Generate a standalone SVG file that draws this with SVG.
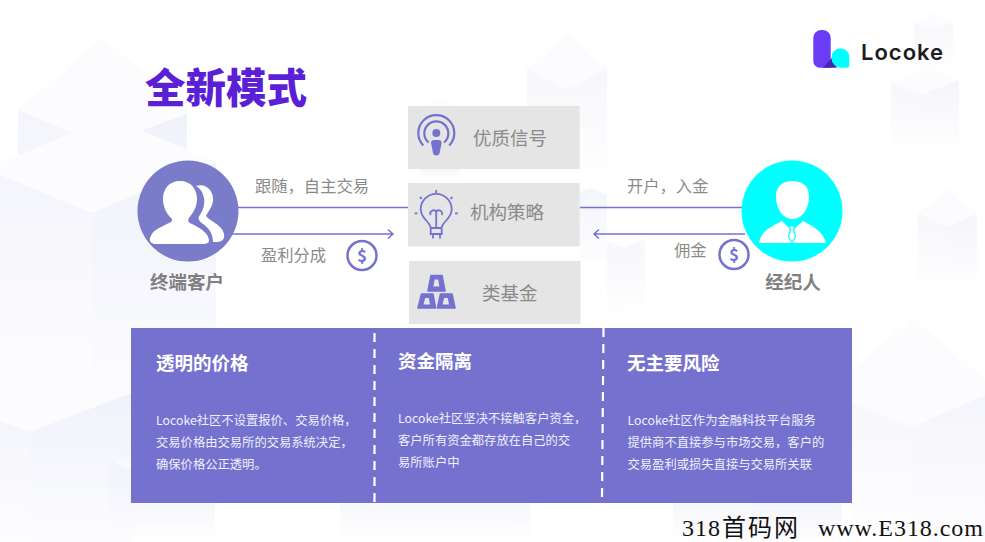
<svg xmlns="http://www.w3.org/2000/svg" width="985" height="542" viewBox="0 0 985 542">
<defs>
<linearGradient id="gl" x1="0" y1="0" x2="0" y2="1"><stop offset="0" stop-color="#f1f2fb"/><stop offset="1" stop-color="#fdfdff"/></linearGradient>
<linearGradient id="gr" x1="0" y1="0" x2="0" y2="1"><stop offset="0" stop-color="#ebedfa"/><stop offset="1" stop-color="#fcfcff"/></linearGradient>
<linearGradient id="gf" x1="0" y1="0" x2="0" y2="1"><stop offset="0" stop-color="#f0f1fb"/><stop offset="1" stop-color="#fff"/></linearGradient>
<linearGradient id="gh" x1="0" y1="0" x2="0" y2="1"><stop offset="0" stop-color="#f4f4fb"/><stop offset="1" stop-color="#fff"/></linearGradient>
</defs>
<style>
text{font-family:"Noto Sans CJK SC","Noto Sans",sans-serif}
.lab{font-size:16.300px;fill:#8a8a8a}
.nm{font-size:18.500px;font-weight:700;fill:#808080}
.box{fill:#e5e5e5}
.bt{font-size:18.500px;fill:#8a8a8a}
.h{font-size:18.500px;font-weight:700;fill:#fff}
.b{font-size:12.300px;fill:#f0effb}
.ln{stroke:#7572cf;stroke-width:1.500;fill:none}
.ic{fill:#7572cf}
.ist{stroke:#7572cf;fill:none;stroke-width:2}
.d{stroke:#fff;stroke-width:2.200;stroke-dasharray:9 7;fill:none}
.roof{fill:#fbfbfe}
.fl{fill:url(#gl)}
.fr{fill:url(#gr)}
.ff{fill:url(#gf)}
.fh{fill:url(#gh)}
.wm{fill:#111;font-family:"Liberation Serif","Noto Sans CJK SC",serif}
</style>
<rect width="985" height="542" fill="#fff"/>
<g id="background" opacity=".7">
<polygon class="roof" points="18,110 102,38 187,108 187,114 102,145"/>
<polygon class="ff" points="18,110 102,145 102,330 18,330"/>
<polygon class="fr" points="102,145 187,114 187,330 102,330"/>
<polygon class="roof" points="0,163 110,117 216,162 92,213 0,175"/>
<polygon class="fl" points="0,175 92,213 92,400 0,400"/>
<polygon class="fr" points="92,213 216,162 216,400 92,400"/>
<polygon class="roof" points="0,377 45,359 131,393 30,432 0,421"/>
<polygon class="fl" points="0,421 30,432 30,542 0,542"/>
<polygon class="fr" points="30,432 131,393 131,542 30,542"/>
<polygon class="fr" points="109,460 131,445 131,470"/>
<polygon class="fr" opacity=".8" points="109,460 131,470 131,542 109,542"/>
<polygon class="fh" points="131,503 215,503 215,542 131,542"/>
<polygon class="fh" points="340,503 530,503 530,542 340,542"/>
<polygon class="roof" points="420,107 440,98 460,107 440,115"/>
<polygon class="fh" points="420,169 460,169 460,178 420,178"/>
<polygon class="roof" points="527,68 567,33 607,68 607,105 527,105"/>
<polygon class="fh" points="527,68 567,90 567,180 527,180"/>
<polygon class="fh" points="567,90 607,68 607,180 567,180"/>
<polygon class="fl" points="580,192 590,188 607,195 607,260 580,260"/>
<polygon class="fh" points="607,242 625,247 625,315 607,315"/>
<polygon class="fh" points="625,247 645,239 645,315 625,315"/>
<polygon class="fh" points="914,23 932,29 932,70 914,70"/>
<polygon class="fh" points="932,29 953,22 953,70 932,70"/>
<polygon class="roof" points="914,23 932,14 953,22 932,29"/>
<polygon class="roof" points="891,83 928,68 959,80 922,95"/>
<polygon class="fh" points="891,83 922,95 922,150 891,150"/>
<polygon class="ff" points="922,95 959,80 959,150 922,150"/>
<polygon class="roof" points="918,214 948,188 977,214 948,227"/>
<polygon class="fh" points="918,214 948,227 948,290 918,290"/>
<polygon class="ff" points="948,227 977,214 977,290 948,290"/>
<polygon class="roof" points="852,370 912,318 985,378 985,395 912,427 852,403"/>
<polygon class="fh" points="852,403 912,427 912,542 852,542"/>
<polygon class="fl" points="912,427 985,395 985,542 912,542"/>
<polygon class="fh" points="673,503 752,503 752,542 673,542"/>
<polygon class="ff" points="752,503 842,503 842,542 752,542"/>
</g>
<g id="logo">
<path d="M813.300 38a8 8 0 0 1 8-8h1.400a8 8 0 0 1 8 8v29.700h-11a6.400 6.400 0 0 1-6.400-6.400z" fill="#6b3cf5"/>
<path d="M823 67.700L833 56.700L836.700 67.700z" fill="#4a22ad"/>
<path d="M831.700 57a8.800 8.800 0 0 1 17.600 0v8.700a2 2 0 0 1-2 2h-6.800a8.800 8.800 0 0 1-8.800-8.800z" fill="#00ffff"/>
<text x="861" y="59.500" letter-spacing="1" style="font-family:Inter,'Noto Sans',sans-serif;font-size:22px;font-weight:600" fill="#1d1d22">Locoke</text>
</g>
<text id="title" x="145" y="103" font-size="40.500" font-weight="900" fill="#5b1fd6">全新模式</text>
<g id="connectors">
<path class="ln" d="M238 207.500H408"/>
<path class="ln" d="M232 234H393M388 229.500l5 4.500-5 4.500"/>
<path class="ln" d="M580 207.500H743"/>
<path class="ln" d="M745 234H594M599 229.500l-5 4.500 5 4.500"/>
<text class="lab" x="255" y="192">跟随，自主交易</text>
<text class="lab" x="261" y="261">盈利分成</text>
<text class="lab" x="627" y="192">开户，入金</text>
<text class="lab" x="674" y="256">佣金</text>
<g id="coin1"><circle class="ist" style="stroke-width:2.500" cx="362" cy="255.500" r="14.500"/><text x="362" y="261.500" text-anchor="middle" font-size="17" font-weight="700" fill="#7572cf">$</text></g>
<g id="coin2"><circle class="ist" style="stroke-width:2.500" cx="734" cy="254.500" r="14.500"/><text x="734" y="260.500" text-anchor="middle" font-size="17" font-weight="700" fill="#7572cf">$</text></g>
</g>
<g id="node-client">
<circle cx="188" cy="211" r="50.500" fill="#7a7cca"/>
<path d="M196 186c10-3 18 5 17 15-1 7-6 12-7 15 3 5 16 8 18 18 1 5-2 8-7 8h-4c0-8-4-14-10-18-4-3-6-6-3-9 3-5 5-10 4-17-1-5-3-9-8-12z" fill="#fff"/>
<path d="M180 181c11 0 17 8 17 18 0 8-4 14-8 19-2 3 0 5 3 6 8 4 17 9 17 17 0 2-3 3-6 3h-46c-5 0-8-2-7-6 2-8 11-11 19-15 3-1 4-3 2-5-5-5-8-12-8-19 0-10 6-18 17-18z" fill="#fff"/>
<text class="nm" x="187" y="289" text-anchor="middle">终端客户</text>
</g>
<g id="node-broker">
<circle cx="792" cy="211" r="50.500" fill="#00ffff"/>
<path d="M776 196c0-10 7-15 16.500-15s16.500 5 16.500 15c0 13-7 23-16.500 23S776 209 776 196z" fill="#fff"/>
<path d="M759 243C761 232 768 228 782 221L792 231L803 221C816 228 823 232 826 243z" fill="#fff"/>
<path d="M789 226h6l-1.500 3.500 2 7.500-3.500 5.500-3.500-5.500 2-7.500z" fill="#fff" stroke="#00ffff" stroke-width="1.200"/>
<text class="nm" x="793" y="289" text-anchor="middle">经纪人</text>
</g>
<g id="node-signal">
<rect class="box" x="408" y="106" width="171.700" height="63"/>
<circle class="ic" cx="436.300" cy="133" r="4"/>
<path class="ic" d="M431 143a3 3 0 0 1 3-3h4.600a3 3 0 0 1 3 3l-2 10a3.400 3.400 0 0 1-6.600 0z"/>
<path class="ist" style="stroke-width:2.200" d="M423.300 145.500a18 18 0 1 1 26 0M428.500 142.500a12 12 0 1 1 15.600 0"/>
<text class="bt" x="473" y="145">优质信号</text>
</g>
<g id="node-strategy">
<rect class="box" x="408" y="183" width="171.700" height="63.500"/>
<path class="ist" style="stroke-width:1.800" d="M430.700 228c0-6-10-9-10-18.700a15.500 15.500 0 0 1 31 0c0 9.700-10 12.700-10 18.700zM430.700 228h11v6h-11zM433 234v4.500M440 234v4.500M436.200 228v-16M436.200 212a3 3 0 0 0-5.500 3M436.200 212a3 3 0 0 1 5.500 3"/>
<path class="ist" style="stroke-width:1.800" d="M436.200 190v3M420 197l1.800 1.800M452.400 197l-1.800 1.800M414.500 213.300h3M455 213.300h3"/>
<text class="bt" x="470" y="219">机构策略</text>
</g>
<g id="node-fund">
<rect class="box" x="409" y="261" width="171.500" height="63"/>
<path class="ic" stroke="#7572cf" stroke-width="1.600" stroke-linejoin="round" fill-rule="evenodd" d="M431 275.500h11l3 15.500h-17zM434 278.700l-1.600 8.600h8l-1.600-8.600z"/>
<path class="ic" stroke="#7572cf" stroke-width="1.600" stroke-linejoin="round" fill-rule="evenodd" d="M421.500 294h11.500l2.500 14h-17.500zM424.500 297.300l-2 8h8.500l-1.500-8z"/>
<path class="ic" stroke="#7572cf" stroke-width="1.600" stroke-linejoin="round" fill-rule="evenodd" d="M440.500 294h11.500l3 14h-17.500zM443.500 297.300l-2 8h8.500l-1.500-8z"/>
<text class="bt" x="482" y="300">类基金</text>
</g>
<g id="panel">
<rect x="131" y="328" width="721" height="175" fill="#7572cf"/>
<path class="d" d="M374.500 333V503"/>
<path class="d" d="M603.500 328L602 498"/>
<text class="h" x="156" y="370">透明的价格</text>
<text class="b" x="156" y="424.500">Locoke社区不设置报价、交易价格，</text>
<text class="b" x="156" y="446.500">交易价格由交易所的交易系统决定，</text>
<text class="b" x="156" y="468.500">确保价格公正透明。</text>
<text class="h" x="398" y="368">资金隔离</text>
<text class="b" x="398" y="422.500">Locoke社区坚决不接触客户资金，</text>
<text class="b" x="398" y="444.500">客户所有资金都存放在自己的交</text>
<text class="b" x="398" y="466.500">易所账户中</text>
<text class="h" x="627" y="370">无主要风险</text>
<text class="b" x="627.500" y="424.500">Locoke社区作为金融科技平台服务</text>
<text class="b" x="627.500" y="446.500">提供商不直接参与市场交易，客户的</text>
<text class="b" x="627.500" y="468.500">交易盈利或损失直接与交易所关联</text>
</g>
<g id="watermark">
<text class="wm" x="682" y="535.500" font-size="24" letter-spacing="1">318</text>
<text class="wm" x="722" y="535.500" font-size="24" letter-spacing="2">首码网</text>
<text class="wm" x="818" y="535.500" font-size="24" textLength="165" lengthAdjust="spacing">www.E318.com</text>
</g>
</svg>
